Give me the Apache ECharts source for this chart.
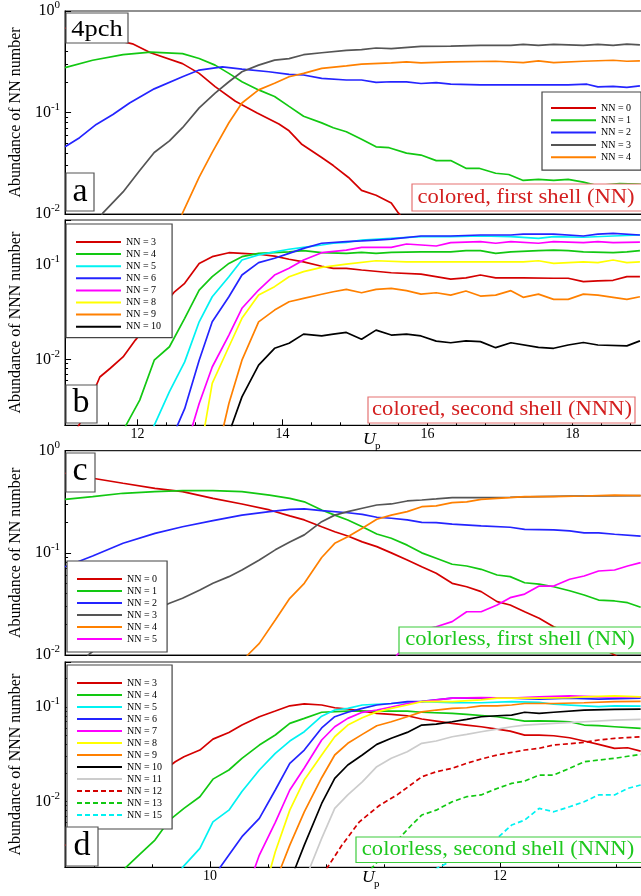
<!DOCTYPE html>
<html>
<head>
<meta charset="utf-8">
<script src="https://cdn.jsdelivr.net/npm/echarts@6/dist/echarts.min.js"></script>
<style>
html, body { margin: 0; padding: 0; background: #fff; overflow: hidden; }
#main { width: 650px; height: 896px; }
</style>
</head>
<body>
<div id="main"></div>
<script>
// panel a : colored, first shell (NN), U_p from 11 to 19
var aNN0 = [[11.0,0.68],[11.93,0.475],[12.18,0.388],[12.62,0.303],[12.85,0.243],[13.07,0.18],[13.35,0.129],[13.65,0.099],[13.95,0.077],[14.09,0.066],[14.26,0.049],[14.54,0.036],[14.70,0.030],[14.91,0.0229],[15.09,0.0171],[15.29,0.0153],[15.5,0.0128],[15.6,0.0102],[15.75,0.0075]];
var aNN1 = [[11.0,0.277],[11.38,0.327],[11.80,0.371],[12.18,0.394],[12.62,0.38],[12.85,0.34],[13.07,0.293],[13.26,0.243],[13.44,0.201],[13.67,0.167],[13.89,0.144],[14.09,0.115],[14.29,0.092],[14.54,0.079],[14.70,0.0708],[14.88,0.0646],[15.09,0.0546],[15.29,0.0459],[15.47,0.045],[15.71,0.0398],[15.91,0.0381],[16.12,0.0336],[16.32,0.0336],[16.53,0.0282],[16.71,0.0282],[16.94,0.0252],[17.12,0.0245],[17.32,0.0214],[17.53,0.0219],[17.74,0.0214],[17.94,0.0219],[18.15,0.0206],[18.34,0.0191],[18.65,0.0199],[18.89,0.0197],[19.0,0.0195]];
var aNN2 = [[11.0,0.0459],[11.2,0.0565],[11.43,0.0763],[11.66,0.0955],[11.89,0.124],[12.23,0.171],[12.62,0.225],[12.85,0.262],[13.17,0.282],[13.44,0.268],[13.81,0.252],[14.09,0.237],[14.29,0.234],[14.54,0.217],[14.88,0.209],[15.09,0.209],[15.29,0.198],[15.5,0.201],[15.71,0.2],[15.91,0.193],[16.12,0.197],[16.32,0.19],[16.73,0.187],[17.15,0.187],[17.53,0.187],[17.94,0.187],[18.2,0.19],[18.35,0.179],[18.56,0.181],[18.75,0.177],[18.93,0.183]];
var aNN3 = [[11.45,0.008],[11.52,0.0102],[11.80,0.0165],[12.03,0.0268],[12.23,0.0404],[12.44,0.0525],[12.62,0.0708],[12.85,0.111],[13.07,0.155],[13.26,0.201],[13.44,0.252],[13.67,0.293],[13.89,0.328],[14.09,0.34],[14.29,0.371],[14.54,0.388],[14.88,0.41],[15.09,0.416],[15.29,0.432],[15.5,0.425],[15.91,0.448],[16.32,0.451],[16.73,0.458],[17.15,0.458],[17.32,0.469],[17.53,0.458],[17.74,0.469],[18.15,0.458],[18.35,0.469],[18.56,0.458],[18.75,0.472],[18.93,0.464]];
var aNN4 = [[12.58,0.008],[12.62,0.0102],[12.85,0.0231],[13.03,0.0404],[13.26,0.0792],[13.44,0.124],[13.67,0.167],[13.89,0.194],[14.09,0.225],[14.29,0.243],[14.54,0.272],[14.88,0.288],[15.09,0.299],[15.5,0.308],[15.71,0.315],[15.91,0.308],[16.32,0.315],[16.94,0.32],[17.32,0.31],[17.53,0.322],[17.74,0.31],[18.15,0.32],[18.56,0.327],[18.75,0.32],[18.93,0.322]];

// panel b : colored, second shell (NNN)
var bNN3 = [[11.1,0.0015],[11.22,0.0022],[11.48,0.0065],[11.62,0.008],[11.80,0.0106],[11.97,0.016],[12.51,0.052],[12.65,0.064],[12.85,0.104],[13.03,0.1225],[13.26,0.135],[13.44,0.133],[13.67,0.13],[13.89,0.124],[14.09,0.115],[14.29,0.108],[14.54,0.097],[14.70,0.0923],[14.88,0.0923],[15.09,0.0885],[15.5,0.0828],[15.91,0.0802],[16.32,0.071],[16.53,0.0732],[16.73,0.0783],[16.94,0.0732],[17.32,0.0732],[17.74,0.0724],[17.94,0.0724],[18.15,0.0666],[18.35,0.068],[18.56,0.0689],[18.75,0.0752],[18.93,0.0752]];
var bNN4 = [[11.8,0.0016],[11.84,0.002],[12.03,0.0037],[12.23,0.0098],[12.44,0.0136],[12.65,0.0272],[12.85,0.0543],[13.03,0.0752],[13.26,0.104],[13.44,0.1225],[13.67,0.133],[14.09,0.138],[14.29,0.142],[14.54,0.135],[14.88,0.133],[15.09,0.136],[15.29,0.133],[15.5,0.136],[15.91,0.138],[16.32,0.138],[16.53,0.142],[16.73,0.142],[16.94,0.133],[17.15,0.138],[17.53,0.142],[17.74,0.144],[17.94,0.142],[18.15,0.138],[18.56,0.135],[18.75,0.138],[18.93,0.142]];
var bNN5 = [[12.2,0.0017],[12.23,0.002],[12.44,0.00454],[12.65,0.0094],[12.85,0.025],[13.03,0.0461],[13.26,0.0752],[13.44,0.113],[13.67,0.128],[13.89,0.138],[14.09,0.147],[14.29,0.154],[14.54,0.163],[14.70,0.17],[14.88,0.174],[15.09,0.184],[15.5,0.192],[15.91,0.2],[16.32,0.2],[16.73,0.203],[17.15,0.2],[17.53,0.192],[17.74,0.2],[18.15,0.197],[18.56,0.203],[18.93,0.208]];
var bNN6 = [[12.5,0.0016],[12.55,0.002],[12.65,0.003],[12.85,0.0098],[13.03,0.025],[13.26,0.0461],[13.44,0.0783],[13.67,0.106],[13.89,0.118],[14.09,0.133],[14.29,0.150],[14.54,0.170],[14.88,0.177],[15.09,0.18],[15.29,0.184],[15.5,0.188],[15.91,0.203],[16.32,0.203],[16.73,0.208],[17.15,0.208],[17.32,0.213],[17.74,0.213],[18.15,0.203],[18.35,0.213],[18.56,0.216],[18.93,0.208]];
var bNN7 = [[12.72,0.0016],[12.76,0.002],[12.85,0.0034],[13.03,0.0083],[13.26,0.0181],[13.44,0.0348],[13.67,0.0543],[13.89,0.0783],[14.09,0.0923],[14.29,0.113],[14.54,0.135],[14.88,0.144],[15.09,0.154],[15.5,0.154],[15.71,0.167],[16.12,0.159],[16.32,0.173],[16.73,0.177],[16.94,0.17],[17.15,0.177],[17.53,0.17],[17.74,0.177],[18.15,0.173],[18.35,0.177],[18.56,0.173],[18.93,0.175]];
var bNN8 = [[12.9,0.0016],[12.93,0.002],[13.03,0.00556],[13.26,0.0136],[13.44,0.0272],[13.67,0.048],[13.89,0.059],[14.09,0.0752],[14.29,0.085],[14.54,0.0944],[14.88,0.102],[15.29,0.111],[15.71,0.108],[16.12,0.108],[16.53,0.108],[16.94,0.108],[17.32,0.108],[17.53,0.111],[17.74,0.104],[18.15,0.108],[18.35,0.106],[18.56,0.113],[18.75,0.106],[18.93,0.108]];
var bNN9 = [[13.15,0.0016],[13.19,0.002],[13.26,0.0034],[13.44,0.0098],[13.67,0.025],[13.89,0.0333],[14.09,0.0408],[14.29,0.0443],[14.54,0.049],[14.70,0.0521],[14.88,0.0552],[15.09,0.0508],[15.29,0.0552],[15.5,0.0566],[15.71,0.0535],[15.91,0.0492],[16.12,0.0508],[16.32,0.048],[16.53,0.0531],[16.73,0.0469],[16.94,0.048],[17.15,0.0535],[17.32,0.0454],[17.53,0.0492],[17.74,0.0432],[17.94,0.0432],[18.15,0.0492],[18.35,0.048],[18.56,0.0454],[18.75,0.0432],[18.93,0.0461]];
var bNN10 = [[13.27,0.0016],[13.30,0.002],[13.44,0.0040],[13.67,0.0087],[13.89,0.0131],[14.09,0.0148],[14.29,0.0185],[14.54,0.0177],[14.70,0.0185],[14.88,0.0193],[15.09,0.0163],[15.29,0.0204],[15.5,0.0181],[15.71,0.0185],[15.91,0.0177],[16.12,0.0156],[16.32,0.015],[16.53,0.0157],[16.73,0.0154],[16.94,0.0133],[17.15,0.015],[17.53,0.0134],[17.74,0.0131],[17.94,0.0142],[18.15,0.0151],[18.35,0.0142],[18.75,0.0139],[18.93,0.0157]];

// panel c : colorless, first shell (NN), U_p from 9 to 13
var cNN0 = [[9.0,0.601],[9.19,0.537],[9.40,0.48],[9.62,0.428],[9.81,0.397],[10.02,0.342],[10.22,0.301],[10.41,0.263],[10.55,0.23],[10.65,0.21],[10.77,0.18],[10.86,0.161],[10.95,0.146],[11.05,0.128],[11.15,0.115],[11.25,0.1],[11.36,0.0851],[11.46,0.0731],[11.56,0.0631],[11.67,0.0503],[11.77,0.0466],[11.87,0.0417],[11.98,0.0333],[12.07,0.0309],[12.17,0.0265],[12.27,0.0229],[12.37,0.0189],[12.58,0.0145],[12.79,0.0100],[12.9,0.008]];
var cNN1 = [[9.0,0.334],[9.19,0.355],[9.40,0.383],[9.62,0.397],[9.81,0.406],[10.02,0.406],[10.22,0.397],[10.41,0.368],[10.55,0.342],[10.65,0.316],[10.77,0.263],[10.86,0.234],[10.95,0.21],[11.05,0.18],[11.15,0.153],[11.25,0.139],[11.36,0.119],[11.46,0.1],[11.56,0.0885],[11.67,0.0773],[11.77,0.0743],[11.87,0.069],[11.98,0.0607],[12.07,0.0585],[12.17,0.051],[12.27,0.0495],[12.37,0.0466],[12.48,0.0426],[12.58,0.0387],[12.68,0.0345],[12.79,0.0338],[12.88,0.0325],[12.97,0.0293]];
var cNN2 = [[9.0,0.0731],[9.19,0.0931],[9.40,0.124],[9.62,0.155],[9.81,0.18],[10.02,0.207],[10.22,0.234],[10.41,0.253],[10.55,0.267],[10.65,0.269],[10.77,0.259],[10.95,0.247],[11.05,0.238],[11.15,0.223],[11.25,0.218],[11.36,0.21],[11.46,0.199],[11.56,0.198],[11.67,0.191],[11.87,0.184],[12.07,0.178],[12.17,0.17],[12.37,0.168],[12.48,0.164],[12.58,0.157],[12.68,0.157],[12.79,0.152],[12.97,0.146]];
var cNN3 = [[9.12,0.008],[9.16,0.01],[9.26,0.013],[9.40,0.0176],[9.51,0.022],[9.62,0.0276],[9.72,0.0321],[9.81,0.0359],[9.93,0.0433],[10.02,0.0503],[10.13,0.0585],[10.22,0.0679],[10.34,0.0851],[10.45,0.107],[10.55,0.128],[10.65,0.15],[10.77,0.202],[10.86,0.234],[10.95,0.253],[11.05,0.273],[11.15,0.294],[11.25,0.301],[11.36,0.322],[11.46,0.329],[11.56,0.337],[11.67,0.347],[11.87,0.347],[12.07,0.35],[12.27,0.355],[12.48,0.36],[12.68,0.36],[12.97,0.363]];
var cNN4 = [[10.22,0.008],[10.26,0.01],[10.34,0.013],[10.45,0.022],[10.55,0.0359],[10.65,0.0503],[10.77,0.09],[10.86,0.124],[10.95,0.144],[11.05,0.174],[11.15,0.213],[11.25,0.234],[11.36,0.253],[11.46,0.283],[11.56,0.288],[11.67,0.31],[11.77,0.316],[11.87,0.334],[11.98,0.342],[12.07,0.347],[12.17,0.355],[12.37,0.355],[12.58,0.36],[12.79,0.368],[12.97,0.363]];
var cNN5 = [[11.25,0.008],[11.29,0.01],[11.36,0.013],[11.46,0.0176],[11.56,0.0189],[11.67,0.0212],[11.77,0.0265],[11.87,0.0265],[11.98,0.0309],[12.07,0.0364],[12.17,0.0395],[12.27,0.0473],[12.37,0.0473],[12.48,0.0551],[12.58,0.0593],[12.68,0.0664],[12.79,0.0679],[12.88,0.0743],[12.97,0.0802]];

// panel d : colorless, second shell (NNN)
var dNN3 = [[9.0,0.0034],[9.76,0.0263],[9.82,0.0297],[9.93,0.035],[10.02,0.0457],[10.13,0.0538],[10.22,0.0644],[10.34,0.0789],[10.45,0.0906],[10.55,0.103],[10.65,0.108],[10.77,0.105],[10.86,0.0982],[10.95,0.0952],[11.05,0.0906],[11.15,0.0857],[11.25,0.0835],[11.36,0.0808],[11.46,0.0746],[11.56,0.071],[11.67,0.0671],[11.77,0.0644],[11.87,0.0618],[11.98,0.0584],[12.07,0.0556],[12.17,0.0504],[12.27,0.0504],[12.37,0.0496],[12.48,0.0472],[12.58,0.0436],[12.68,0.0402],[12.79,0.0365],[12.88,0.037],[12.97,0.0341]];
var dNN4 = [[9.38,0.0016],[9.42,0.002],[9.52,0.0028],[9.62,0.00389],[9.72,0.00633],[9.82,0.00843],[9.93,0.0112],[10.02,0.0172],[10.13,0.0215],[10.22,0.0286],[10.34,0.0395],[10.45,0.0505],[10.55,0.0671],[10.65,0.0758],[10.77,0.088],[10.95,0.0906],[11.15,0.0906],[11.36,0.0906],[11.46,0.088],[11.67,0.0857],[11.77,0.0835],[11.98,0.0789],[12.17,0.071],[12.27,0.0714],[12.37,0.071],[12.48,0.0698],[12.58,0.0644],[12.68,0.0634],[12.79,0.0618],[12.97,0.0594]];
var dNN5 = [[9.78,0.0016],[9.81,0.002],[9.93,0.00317],[10.02,0.00607],[10.13,0.00807],[10.22,0.0127],[10.34,0.0215],[10.45,0.0323],[10.55,0.0436],[10.65,0.0547],[10.77,0.08],[10.86,0.0929],[10.95,0.0968],[11.05,0.105],[11.15,0.107],[11.25,0.109],[11.46,0.114],[11.67,0.111],[11.87,0.111],[12.08,0.114],[12.27,0.112],[12.37,0.107],[12.58,0.103],[12.68,0.101],[12.79,0.103],[12.97,0.102]];
var dNN6 = [[10.04,0.0016],[10.07,0.002],[10.13,0.0027],[10.22,0.00422],[10.34,0.0066],[10.45,0.0132],[10.55,0.0253],[10.65,0.035],[10.77,0.06],[10.86,0.0789],[10.95,0.0879],[11.05,0.0968],[11.15,0.105],[11.25,0.109],[11.36,0.114],[11.46,0.115],[11.67,0.124],[11.87,0.124],[12.08,0.124],[12.27,0.121],[12.48,0.124],[12.68,0.121],[12.97,0.124]];
var dNN7 = [[10.28,0.0016],[10.31,0.002],[10.34,0.0027],[10.45,0.006],[10.55,0.0132],[10.65,0.0226],[10.77,0.0447],[10.86,0.0618],[10.95,0.0758],[11.05,0.0879],[11.15,0.0929],[11.25,0.1],[11.36,0.109],[11.46,0.114],[11.67,0.124],[11.87,0.126],[12.08,0.124],[12.27,0.128],[12.48,0.131],[12.68,0.128],[12.97,0.128]];
var dNN8 = [[10.39,0.0016],[10.42,0.002],[10.45,0.00292],[10.55,0.00807],[10.65,0.0168],[10.77,0.031],[10.86,0.0484],[10.95,0.0644],[11.05,0.0769],[11.15,0.0888],[11.25,0.0968],[11.36,0.105],[11.46,0.114],[11.56,0.115],[11.67,0.114],[11.87,0.119],[11.98,0.124],[12.08,0.124],[12.27,0.124],[12.48,0.126],[12.58,0.128],[12.79,0.131],[12.97,0.128]];
var dNN9 = [[10.46,0.0016],[10.49,0.002],[10.55,0.00344],[10.65,0.00775],[10.77,0.0178],[10.86,0.031],[10.95,0.0412],[11.05,0.0513],[11.15,0.0633],[11.25,0.0698],[11.36,0.0789],[11.46,0.0888],[11.56,0.0929],[11.67,0.0968],[11.77,0.0982],[11.87,0.103],[11.98,0.103],[12.08,0.105],[12.17,0.109],[12.37,0.109],[12.58,0.111],[12.79,0.114],[12.97,0.115]];
var dNN10 = [[10.56,0.0016],[10.59,0.002],[10.65,0.00344],[10.77,0.0095],[10.86,0.0175],[10.95,0.0243],[11.05,0.031],[11.15,0.0402],[11.25,0.0466],[11.36,0.0538],[11.46,0.0644],[11.56,0.066],[11.67,0.0698],[11.77,0.074],[11.87,0.0789],[11.98,0.0808],[12.08,0.0822],[12.17,0.088],[12.27,0.0857],[12.37,0.088],[12.58,0.0929],[12.79,0.0945],[12.97,0.0952]];
var dNN11 = [[10.66,0.0016],[10.69,0.002],[10.77,0.00405],[10.86,0.00843],[10.95,0.0117],[11.05,0.0161],[11.15,0.0233],[11.25,0.0286],[11.36,0.0336],[11.46,0.0412],[11.56,0.0436],[11.67,0.0484],[11.77,0.0513],[11.87,0.0547],[11.98,0.0584],[12.08,0.0618],[12.17,0.0644],[12.37,0.0671],[12.58,0.0698],[12.79,0.0727],[12.97,0.074]];
var dNN12 = [[10.78,0.0016],[10.81,0.002],[10.91,0.00344],[11.03,0.00607],[11.17,0.0091],[11.29,0.0117],[11.46,0.0182],[11.56,0.0206],[11.67,0.0224],[11.77,0.0253],[11.87,0.0281],[11.98,0.031],[12.08,0.033],[12.17,0.035],[12.27,0.0365],[12.37,0.0395],[12.58,0.0422],[12.68,0.0447],[12.79,0.0466],[12.97,0.0484]];
var dNN13 = [[11.08,0.0016],[11.12,0.002],[11.24,0.00317],[11.39,0.00561],[11.46,0.00716],[11.56,0.00807],[11.67,0.0099],[11.77,0.0112],[11.87,0.0117],[11.98,0.0137],[12.08,0.0155],[12.17,0.0164],[12.27,0.019],[12.37,0.019],[12.48,0.0224],[12.58,0.0263],[12.68,0.0274],[12.79,0.0286],[12.97,0.0315]];
var dNN15 = [[11.55,0.0019],[11.99,0.0042],[12.08,0.00561],[12.17,0.00633],[12.27,0.00843],[12.37,0.00775],[12.48,0.00877],[12.58,0.0099],[12.68,0.0117],[12.79,0.0117],[12.88,0.0137],[12.97,0.0149]];

var RED = '#d40000', GREEN = '#12c812', BLUE = '#2424ff', GRAY = '#555555', ORANGE = '#ff8000',
    CYAN = '#00f2f2', MAGENTA = '#ff00ff', YELLOW = '#ffff00', BLACK = '#000000', LGRAY = '#cccccc';
var FONT = 'Liberation Serif';

// [legend text, data, colour, dashed]
var panels = [
  { key: 'a', xmin: 11, xmax: 19, ymin: 0.01, ymax: 1, yname: 'Abundance of NN number', lines: [
    ['NN = 0', aNN0, RED], ['NN = 1', aNN1, GREEN], ['NN = 2', aNN2, BLUE], ['NN = 3', aNN3, GRAY], ['NN = 4', aNN4, ORANGE]] },
  { key: 'b', xmin: 11, xmax: 19, ymin: 0.002, ymax: 0.3, yname: 'Abundance of NNN number', lines: [
    ['NN = 3', bNN3, RED], ['NN = 4', bNN4, GREEN], ['NN = 5', bNN5, CYAN], ['NN = 6', bNN6, BLUE],
    ['NN = 7', bNN7, MAGENTA], ['NN = 8', bNN8, YELLOW], ['NN = 9', bNN9, ORANGE], ['NN = 10', bNN10, BLACK]] },
  { key: 'c', xmin: 9, xmax: 13, ymin: 0.01, ymax: 1, yname: 'Abundance of NN number', lines: [
    ['NN = 0', cNN0, RED], ['NN = 1', cNN1, GREEN], ['NN = 2', cNN2, BLUE], ['NN = 3', cNN3, GRAY],
    ['NN = 4', cNN4, ORANGE], ['NN = 5', cNN5, MAGENTA]] },
  { key: 'd', xmin: 9, xmax: 13, ymin: 0.002, ymax: 0.3, yname: 'Abundance of NNN number', lines: [
    ['NN = 3', dNN3, RED], ['NN = 4', dNN4, GREEN], ['NN = 5', dNN5, CYAN], ['NN = 6', dNN6, BLUE],
    ['NN = 7', dNN7, MAGENTA], ['NN = 8', dNN8, YELLOW], ['NN = 9', dNN9, ORANGE], ['NN = 10', dNN10, BLACK],
    ['NN = 11', dNN11, LGRAY], ['NN = 12', dNN12, RED, true], ['NN = 13', dNN13, GREEN, true], ['NN = 15', dNN15, CYAN, true]] }
];

var grids = [
  { left: 62, right: 5, top: 8.5, height: 205.5 },
  { left: 62, right: 5, top: 220, height: 205.3 },
  { left: 62, right: 5, top: 450.7, height: 204.3 },
  { left: 62, right: 5, top: 662, height: 205.3 }
];
var legendPos = [
  { left: 542, top: 92, padding: [10, 10, 7, 8], itemGap: 0.3 },
  { left: 66, top: 224, padding: [12, 11, 5, 9], itemGap: 0.1 },
  { left: 67, top: 561, padding: [12, 10, 7, 9], itemGap: 0 },
  { left: 67, top: 665, padding: [12, 10, 8, 9], itemGap: 0 }
];

var series = [], xAxes = [], yAxes = [], legends = [];
panels.forEach(function (p, i) {
  var names = [];
  p.lines.forEach(function (l) {
    var name = p.key + '|' + l[0];
    names.push(name);
    series.push({
      name: name, type: 'line', xAxisIndex: i, yAxisIndex: i, data: l[1],
      symbol: 'none', showSymbol: false,
      lineStyle: { color: l[2], width: 1.7, type: l[3] ? [5, 3] : 'solid' },
      itemStyle: { color: l[2] }
    });
  });
  // only the lower panel of each pair carries ticks and labels on U_p
  var showX = (i === 1 || i === 3);
  xAxes.push({
    type: 'value', gridIndex: i, min: p.xmin, max: p.xmax, splitNumber: (p.xmax - p.xmin) / 2,
    axisLine: { lineStyle: { color: '#000', width: 1 } },
    axisTick: { show: showX, inside: true, length: 6, lineStyle: { color: '#000' } },
    minorTick: { show: showX, splitNumber: 5, length: 3, lineStyle: { color: '#000' } },
    splitLine: { show: false },
    axisLabel: { show: showX, margin: 2, showMinLabel: false, showMaxLabel: false,
      fontFamily: FONT, fontSize: 14, color: '#000' }
  });
  var ends = (p.ymax === 1);
  yAxes.push({
    type: 'log', logBase: 10, gridIndex: i, min: p.ymin, max: p.ymax,
    name: p.yname, nameLocation: 'middle', nameGap: 33,
    nameTextStyle: { fontFamily: FONT, fontSize: 16, color: '#000' },
    axisLine: { show: true, lineStyle: { color: '#000' } },
    axisTick: { inside: true, length: 6, lineStyle: { color: '#000' } },
    minorTick: { show: true, splitNumber: 9, length: 3, lineStyle: { color: '#000' } },
    splitLine: { show: false },
    axisLabel: {
      margin: 5, showMinLabel: ends, showMaxLabel: ends, hideOverlap: false,
      formatter: function (v) { return '{b|10}{s|' + Math.round(Math.log10(v)) + '}'; },
      rich: {
        b: { fontFamily: FONT, fontSize: 16, lineHeight: 22, color: '#000' },
        s: { fontFamily: FONT, fontSize: 11, lineHeight: 12, verticalAlign: 'top', color: '#000' }
      }
    }
  });
  var lp = legendPos[i];
  legends.push({
    data: names, orient: 'vertical', left: lp.left, top: lp.top, padding: lp.padding, itemGap: lp.itemGap,
    itemWidth: 45, itemHeight: 12, selectedMode: false,
    itemStyle: { opacity: 0, borderWidth: 0 },
    backgroundColor: '#fff', borderColor: '#444', borderWidth: 1.2,
    formatter: function (n) { return n.split('|')[1]; },
    textStyle: { fontFamily: FONT, fontSize: 10, lineHeight: 12, color: '#000' }
  });
});

function box(x, y, w, h, stroke) {
  return { type: 'rect', z: 100, shape: { x: x, y: y, width: w, height: h },
    style: { fill: '#fff', stroke: stroke, lineWidth: 1.2 } };
}
function txt(x, y, text, font, fill, sx, align) {
  return { type: 'text', z: 101, x: x, y: y, scaleX: sx || 1,
    style: { text: text, font: font, fill: fill, align: align || 'center', verticalAlign: 'middle',
      textAlign: align || 'center', textVerticalAlign: 'middle' } };
}
var serif = function (s) { return s + 'px "' + FONT + '"'; };

var graphics = [
  box(66, 13, 62, 30, '#555'), txt(97, 30, '4pch', serif(23), '#000', 1.15),
  box(66, 173, 28, 38, '#555'), txt(80, 192.5, 'a', serif(34), '#000'),
  box(66, 385, 31, 38, '#555'), txt(81, 403.5, 'b', serif(34), '#000'),
  box(66, 453, 29, 39, '#555'), txt(80, 471.5, 'c', serif(34), '#000'),
  box(66, 827, 32, 39, '#555'), txt(82, 846.5, 'd', serif(34), '#000'),
  box(412, 184, 232, 27, '#e57373'), txt(526, 197.5, 'colored, first shell (NN)', serif(20), '#d42020', 1.13),
  box(368, 397, 267, 26, '#e57373'), txt(502, 410, 'colored, second shell (NNN)', serif(20), '#d42020', 1.13),
  box(399, 627, 245, 26, '#3ccc3c'), txt(520, 640, 'colorless, first shell (NN)', serif(20), '#1ec81e', 1.13),
  box(356, 837, 288, 25.5, '#3ccc3c'), txt(498, 849.7, 'colorless, second shell (NNN)', serif(20), '#1ec81e', 1.13),
  txt(363, 440, 'U', 'italic ' + serif(16), '#000', 1.1, 'left'),
  txt(375, 446, 'p', serif(11), '#000', 1, 'left'),
  txt(362, 878, 'U', 'italic ' + serif(16), '#000', 1.1, 'left'),
  txt(374, 884, 'p', serif(11), '#000', 1, 'left')
];

var chart = echarts.init(document.getElementById('main'));
chart.setOption({
  animation: false,
  backgroundColor: '#fff',
  grid: grids.map(function (g) {
    return Object.assign({ show: true, borderColor: '#222', borderWidth: 1.2, backgroundColor: 'transparent' }, g);
  }),
  xAxis: xAxes,
  yAxis: yAxes,
  legend: legends,
  graphic: graphics,
  series: series
});
</script>
</body>
</html>
